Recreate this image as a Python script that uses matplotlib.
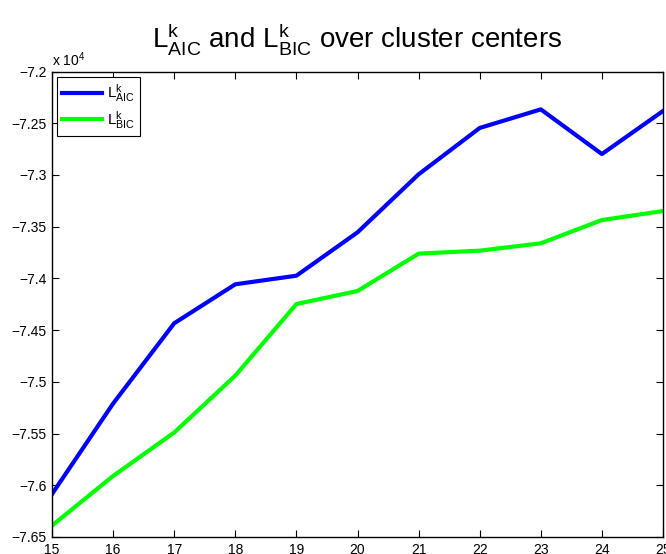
import matplotlib
matplotlib.use("Agg")
import matplotlib.pyplot as plt
from matplotlib.ticker import FuncFormatter, MultipleLocator

plt.rcParams['font.family'] = ['Liberation Sans', 'DejaVu Sans']
plt.rcParams['mathtext.fontset'] = 'custom'
plt.rcParams['mathtext.rm'] = 'Liberation Sans'
plt.rcParams['mathtext.it'] = 'Liberation Sans'

# number of cluster centers and the two criteria
centers = [15, 16, 17, 18, 19, 20, 21, 22, 23, 24, 25]
l_aic = [-76085, -75210, -74434, -74057, -73974, -73555, -72994, -72546, -72366, -72798, -72382]
l_bic = [-76390, -75910, -75490, -74940, -74248, -74122, -73761, -73732, -73661, -73436, -73349]

fig = plt.figure(figsize=(6.66, 5.54), dpi=100)
ax = fig.add_axes([52/666, 17/554, 611/666, 465.5/554])

ax.plot(centers, l_aic, color=(0, 0, 1), lw=3, label=r'$\mathrm{L}^{\mathrm{k}}_{\mathrm{AIC}}$')
ax.plot(centers, l_bic, color=(0, 1, 0), lw=3, label=r'$\mathrm{L}^{\mathrm{k}}_{\mathrm{BIC}}$')

ax.set_xlim(15, 25)
ax.set_ylim(-76500, -72000)
ax.xaxis.set_major_locator(MultipleLocator(1))
ax.yaxis.set_major_locator(MultipleLocator(500))
ax.yaxis.set_major_formatter(FuncFormatter(lambda v, p: ('%g' % (v / 1e4)).replace('-', '\u2212')))
ax.tick_params(direction='in', top=True, right=True, length=5, width=0.8,
               labelsize=10, pad=4)
for s in ax.spines.values():
    s.set_linewidth(1.0)

fig.text(52/666, 1 - 66/554, r'x 10$^{4}$', fontsize=10, ha='left', va='baseline')

ax.set_title(r'$\mathrm{L}^{\mathrm{k}}_{\mathrm{AIC}}$ and $\mathrm{L}^{\mathrm{k}}_{\mathrm{BIC}}$ over cluster centers',
             fontsize=20, pad=17)

leg = ax.legend(loc='upper left', bbox_to_anchor=(0.008, 0.988), borderaxespad=0,
                fontsize=11, handlelength=2.6, fancybox=False, framealpha=1,
                edgecolor='k', labelspacing=0.3, borderpad=0.35, handletextpad=0.3)
leg.get_frame().set_linewidth(0.8)

fig.savefig('out.png', dpi=100)
